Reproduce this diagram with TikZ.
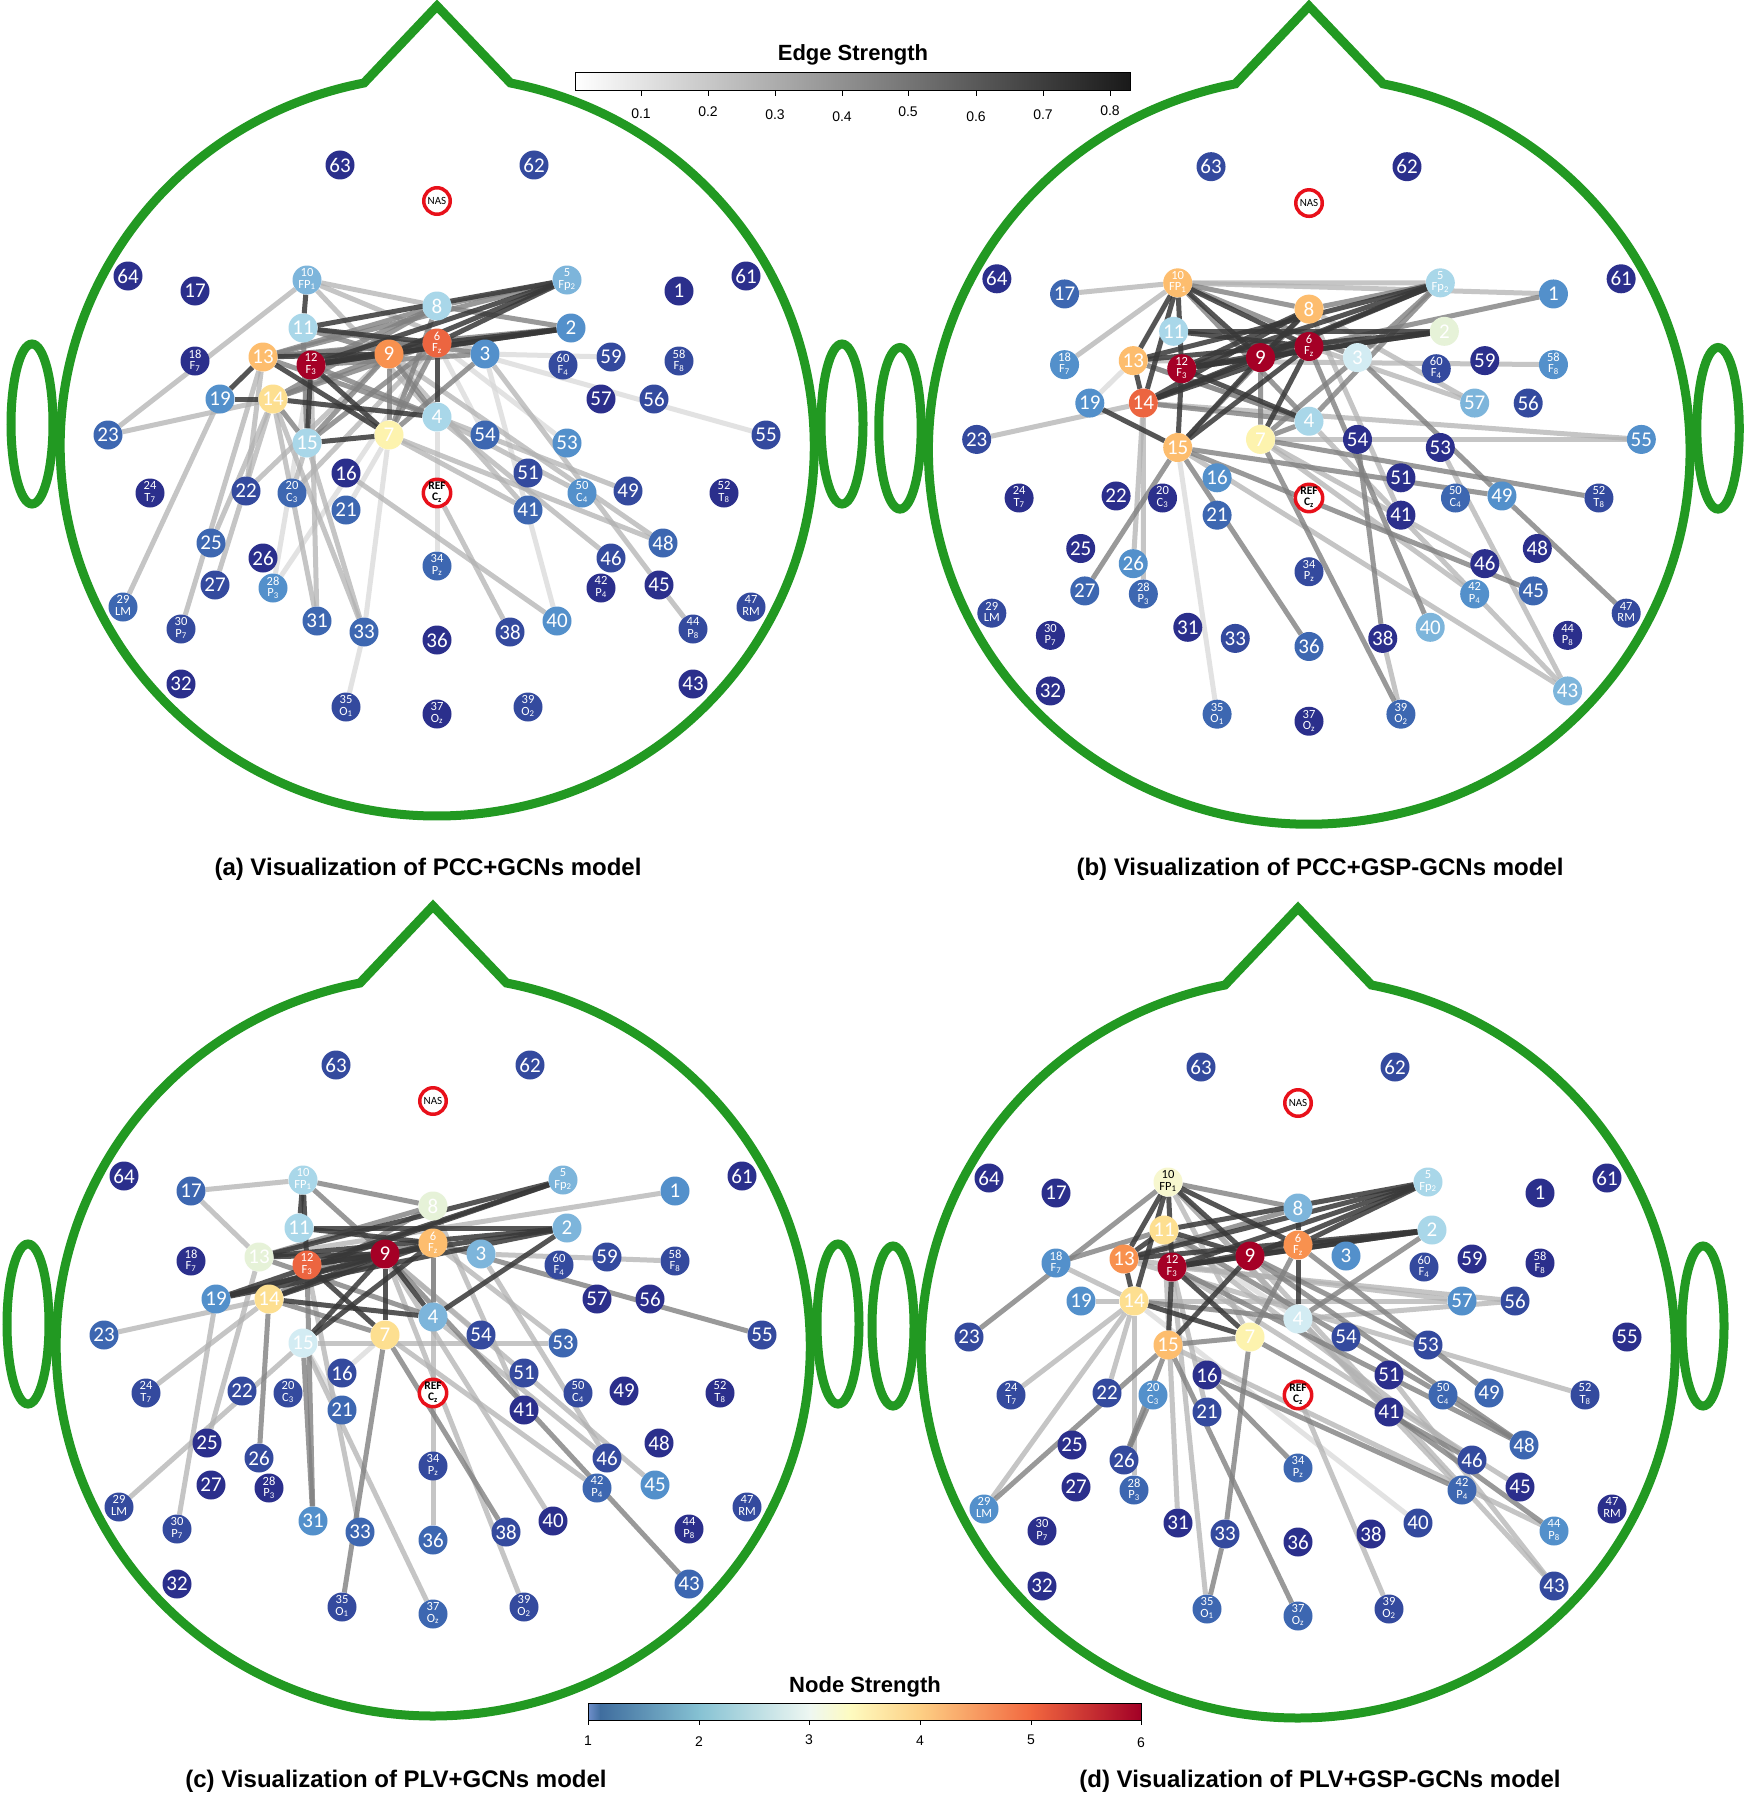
\documentclass[tikz,border=0pt]{standalone}
\usepackage{fontspec}
\setmainfont{Liberation Sans}
\newfontfamily\cfont{Carlito}
\pgfdeclarelayer{bg}
\pgfdeclarelayer{edges}
\pgfsetlayers{bg,edges,main}
\definecolor{hgreen}{RGB}{34,153,34}
\definecolor{refred}{HTML}{E8101A}
\definecolor{kB1}{HTML}{2B2F8C}
\definecolor{kB2}{HTML}{344A9E}
\definecolor{kB3}{HTML}{3D67B1}
\definecolor{kB4}{HTML}{5390CB}
\definecolor{kB5}{HTML}{7DB5DB}
\definecolor{kB6}{HTML}{A9D7E9}
\definecolor{kB7}{HTML}{D3ECF3}
\definecolor{kG}{HTML}{E6F2D8}
\definecolor{kY0}{HTML}{F7F7CF}
\definecolor{kY1}{HTML}{FDF3AE}
\definecolor{kY2}{HTML}{FDDF90}
\definecolor{kO1}{HTML}{FDBD6E}
\definecolor{kO2}{HTML}{F8914F}
\definecolor{kO3}{HTML}{EC6540}
\definecolor{kR}{HTML}{A50026}
\definecolor{s1}{HTML}{6F8FCB}
\definecolor{s2}{HTML}{3F6D9E}
\definecolor{s3}{HTML}{86C2D3}
\definecolor{s4}{HTML}{EEF7F2}
\definecolor{s5}{HTML}{FEFBC0}
\definecolor{s6}{HTML}{FDCF84}
\definecolor{s7}{HTML}{F2673F}
\definecolor{s8}{HTML}{A20026}
\newcommand\nfont{\cfont\fontsize{21}{21}\selectfont}
\newcommand\sfont{\cfont\fontsize{12.5}{10.5}\selectfont}
\newcommand\rfont{\cfont\bfseries\fontsize{11.5}{10.5}\selectfont}
\newcommand\twol[2]{{\sfont\begin{tabular}{@{}c@{}}#1\\#2\end{tabular}}}
\newcommand\deflab[2]{\expandafter\def\csname elab#1\endcsname{\twol{#1}{#2}}}
\deflab{10}{FP\textsubscript{1}}
\deflab{5}{Fp\textsubscript{2}}
\deflab{18}{F\textsubscript{7}}
\deflab{12}{F\textsubscript{3}}
\deflab{6}{F\textsubscript{z}}
\deflab{60}{F\textsubscript{4}}
\deflab{58}{F\textsubscript{8}}
\deflab{24}{T\textsubscript{7}}
\deflab{20}{C\textsubscript{3}}
\deflab{50}{C\textsubscript{4}}
\deflab{52}{T\textsubscript{8}}
\deflab{34}{P\textsubscript{z}}
\deflab{28}{P\textsubscript{3}}
\deflab{42}{P\textsubscript{4}}
\deflab{29}{LM}
\deflab{47}{RM}
\deflab{30}{P\textsubscript{7}}
\deflab{44}{P\textsubscript{8}}
\deflab{35}{O\textsubscript{1}}
\deflab{37}{O\textsubscript{z}}
\deflab{39}{O\textsubscript{2}}
\newcommand\elab[1]{\ifcsname elab#1\endcsname\csname elab#1\endcsname\else{\nfont#1}\fi}
\def\blackY{Y0}
\def\eegpos{64/-309/-217,17/-242/-202,10/-130/-213,5/130/-213,1/242/-202,61/309/-217,8/0/-187,11/-134/-165,2/134/-165,18/-242/-132,13/-174/-136,12/-126/-128,9/-48/-139,6/0/-150,3/48/-139,60/126/-128,59/174/-136,58/242/-132,19/-217/-94,14/-164/-94,57/164/-94,56/217/-94,23/-329/-58,4/0/-76,15/-130/-50,7/-48/-58,54/48/-58,53/130/-50,55/329/-58,16/-91/-20,51/91/-20,24/-287/0,22/-191/-2,20/-145/0,50/145/0,49/191/-2,52/287/0,21/-91/17,41/91/17,25/-226/50,48/226/50,26/-174/65,46/174/65,27/-222/92,28/-164/95,34/0/73,42/164/95,45/222/92,29/-314/114,47/314/114,30/-256/136,31/-120/128,33/-73/139,36/0/147,38/73/139,40/120/128,44/256/136,32/-256/191,43/256/191,35/-91/214,37/0/221,39/91/214,63/-97/-328,62/97/-328,NAS/0/-292,REF/0/0}
\tikzset{
  headline/.style={draw=hgreen,line width=9pt},
  enode/.style={circle,minimum size=29pt,inner sep=0pt},
  refnode/.style={circle,draw=refred,line width=3.5pt,fill=white,minimum size=26.5pt,inner sep=0pt,text=black},
  edk/.style={line width=5pt,draw=black!78,draw opacity=.85},
  edm/.style={line width=5pt,draw=black!50,draw opacity=.8},
  edl/.style={line width=5pt,draw=black!30,draw opacity=.75},
  edv/.style={line width=5pt,draw=black!15,draw opacity=.75},
  capt/.style={font=\bfseries\fontsize{24}{24}\selectfont},
  cbtitle/.style={font=\bfseries\fontsize{22}{22}\selectfont},
  cblab/.style={font=\fontsize{14}{14}\selectfont}
}
\newcommand\eegpanel[9]{%
\begin{scope}[shift={(#2,#3)},scale=#4]
\draw[headline] (-73,-410) arc[start angle=258.8,end angle=-78.8,x radius=377,y radius=370] -- (0,-487) -- cycle;
\draw[headline] (-405,-69) ellipse[x radius=21,y radius=80];
\draw[headline] (405,-69) ellipse[x radius=21,y radius=80];
\foreach \n/\x/\y in \eegpos {\coordinate (#1p\n) at (\x,\y);}
\foreach \n/\col in {#5} {%
  \edef\tmpc{\col}%
  \ifx\tmpc\blackY\def\tcol{black}\else\def\tcol{white}\fi
  \node[enode,fill=k\col,text=\tcol] (#1\n) at (#1p\n) {\elab{\n}};}
\node[refnode] (#1REF) at (#1pREF) {{\rfont\begin{tabular}{@{}c@{}}REF\\C\textsubscript{z}\end{tabular}}};
\node[refnode] (#1NAS) at (#1pNAS) {{\cfont\fontsize{11}{11}\selectfont NAS}};
\begin{pgfonlayer}{edges}
\foreach \ea/\eb in {#9} {\draw[edv] (#1\ea) -- (#1\eb);}
\foreach \ea/\eb in {#8} {\draw[edl] (#1\ea) -- (#1\eb);}
\foreach \ea/\eb in {#7} {\draw[edm] (#1\ea) -- (#1\eb);}
\foreach \ea/\eb in {#6} {\draw[edk] (#1\ea) -- (#1\eb);}
\end{pgfonlayer}
\end{scope}}
\begin{document}
\begin{tikzpicture}[x=1pt,y=-1pt]
\useasboundingbox (0,0) rectangle (1750,1798);
\begin{pgfonlayer}{bg}
\fill[white] (0,0) rectangle (1750,1798);
\end{pgfonlayer}
% panel (a)
\eegpanel{a}{437}{493}{1}%
{64/B1,17/B1,10/B5,5/B5,1/B1,61/B1,8/B6,11/B6,2/B4,18/B1,13/O1,12/R,9/O2,6/O3,3/B4,60/B2,59/B2,58/B2,19/B4,14/Y2,57/B1,56/B2,23/B3,4/B6,15/B6,7/Y1,54/B3,53/B4,55/B2,16/B1,51/B2,24/B1,22/B2,20/B3,50/B4,49/B2,52/B1,21/B3,41/B3,25/B3,48/B3,26/B1,46/B2,27/B2,28/B4,34/B3,42/B1,45/B1,29/B3,47/B2,30/B2,31/B3,33/B3,36/B1,38/B2,40/B4,44/B2,32/B1,43/B1,35/B2,37/B1,39/B2,63/B1,62/B2}%
{5/11,5/12,5/9,5/6,2/12,2/9,2/6,10/11,11/6,12/9,12/6,13/9,13/19,19/14,14/4,6/4,15/7,12/15,12/7,13/7}%
{8/5,8/2,8/12,8/13,14/9,14/8,7/6,7/8,7/3,15/9,4/9,14/15,11/15,5/13,2/13,13/4,11/9,11/3,12/3,13/6,14/6,15/6,9/7,12/4}%
{10/23,23/14,10/8,10/3,10/4,19/29,14/25,14/27,13/30,14/31,14/33,15/33,16/40,REF/38,7/48,7/41,4/46,4/49,3/45,45/44,9/41,9/48,12/31,13/22,15/20,9/22,4/50,20/6}%
{7/33,33/35,7/21,4/34,3/40,6/55,3/59,6/53,12/28,6/54,28/6}
% panel (b)
\eegpanel{b}{1309}{498}{1.01}%
{64/B1,17/B3,10/O1,5/B6,1/B4,61/B1,8/O1,11/B6,2/G,18/B4,13/O1,12/R,9/R,6/R,3/B7,60/B2,59/B1,58/B4,19/B4,14/O3,57/B5,56/B2,23/B2,4/B6,15/O1,7/Y1,54/B1,53/B1,55/B4,16/B4,51/B1,24/B1,22/B1,20/B1,50/B3,49/B4,52/B2,21/B3,41/B1,25/B1,48/B1,26/B4,46/B1,27/B3,28/B3,34/B2,42/B4,45/B3,29/B2,47/B2,30/B1,31/B1,33/B2,36/B3,38/B1,40/B5,44/B1,32/B1,43/B5,35/B3,37/B1,39/B3,63/B2,62/B1}%
{10/13,10/14,10/12,10/9,10/6,12/15,2/11,2/12,2/13,2/9,5/9,5/12,5/13,5/14,8/9,8/12,8/14,6/15,6/7,6/14,6/12,9/15,9/14,19/15,13/14,12/4,11/6,9/12}%
{10/8,10/3,10/4,5/3,5/4,5/8,1/6,3/7,4/14,4/13,7/52,15/49,3/49,49/47,15/27,15/36,7/39,15/45,6/40,54/38,8/15,9/7,4/7}%
{17/10,10/5,10/1,18/10,23/14,13/58,14/55,7/55,8/57,6/57,8/41,14/26,14/28,15/43,4/43,53/43,7/46,7/42,38/39,13/4}%
{15/35,19/13}
% panel (c)
\eegpanel{c}{433}{1393}{1}%
{64/B1,17/B3,10/B6,5/B5,1/B4,61/B1,8/G,11/B6,2/B5,18/B1,13/G,12/O3,9/R,6/O1,3/B5,60/B2,59/B2,58/B2,19/B4,14/Y2,57/B1,56/B1,23/B3,4/B5,15/B7,7/Y2,54/B2,53/B3,55/B2,16/B2,51/B2,24/B2,22/B2,20/B2,50/B2,49/B1,52/B1,21/B3,41/B1,25/B1,48/B1,26/B2,46/B2,27/B1,28/B1,34/B2,42/B3,45/B4,29/B2,47/B2,30/B2,31/B4,33/B3,36/B3,38/B2,40/B1,44/B1,32/B1,43/B3,35/B2,37/B3,39/B2,63/B2,62/B2}%
{5/13,5/12,5/19,2/13,2/12,2/19,11/2,9/19,9/13,9/14,9/12,6/19,6/14,2/4,10/11,10/12,14/4,15/9,15/6,9/4,9/7,12/7,11/6}%
{10/8,10/9,6/55,14/7,13/4,6/4,26/14,35/7,38/7,43/9,12/31,15/31,8/13,8/14,6/12}%
{17/10,17/13,3/58,6/36,8/41,13/25,24/14,29/15,30/19,33/12,37/15,39/9,40/9,42/7,45/9,46/4,46/3,53/15,54/9,23/14,6/53,1/13}%
{15/21,16/7}
% panel (d)
\eegpanel{d}{1298}{1395}{1}%
{64/B1,17/B1,10/Y0,5/B6,1/B1,61/B1,8/B5,11/Y2,2/B6,18/B4,13/O2,12/R,9/R,6/O2,3/B4,60/B2,59/B1,58/B1,19/B4,14/Y2,57/B4,56/B2,23/B2,4/B7,15/O1,7/Y1,54/B2,53/B2,55/B1,16/B1,51/B1,24/B2,22/B2,20/B4,50/B3,49/B3,52/B2,21/B2,41/B1,25/B1,48/B3,26/B2,46/B2,27/B1,28/B3,34/B3,42/B3,45/B1,29/B4,47/B1,30/B1,31/B1,33/B2,36/B1,38/B1,40/B2,44/B4,32/B1,43/B2,35/B3,37/B3,39/B2,63/B2,62/B2}%
{10/13,10/14,10/9,10/6,10/12,5/11,5/13,5/12,5/9,5/6,2/13,2/12,2/9,2/6,8/6,6/4,13/14,14/7,12/7,15/12,15/9,11/13,9/12,12/6,11/9}%
{10/23,2/4,18/11,9/53,6/49,9/48,12/48,11/50,7/46,29/15,26/20,26/15,33/7,35/33,37/15,34/16,16/42,41/44,48/50,14/4,15/7,7/6,8/13,10/8}%
{10/4,10/7,18/14,19/14,14/57,13/57,12/56,4/56,13/52,22/14,24/14,29/14,28/14,31/11,35/12,21/12,39/REF,43/51,10/41,10/42,11/46,12/45,9/43,15/44}%
{11/4,14/40}
% edge strength colorbar
\node[cbtitle] (etitle) at (853,55) {Edge Strength};
\shade[left color=white,right color=black!90] (575,73) rectangle (1130,91);
\draw[line width=1pt] (575,73) rectangle (1130,91);
\foreach \v/\x/\y in {0.1/641/114,0.2/708/112,0.3/775/115,0.4/842/117,0.5/908/112,0.6/976/117,0.7/1043/115,0.8/1110/111}{
  \draw[line width=1pt] (\x,91) -- (\x,96);
  \node[cblab] (et\x) at (\x,\y) {\v};}
% node strength colorbar
\node[cbtitle] (ntitle) at (865,1687) {Node Strength};
\shade[left color=s1,right color=s2] (588,1703) rectangle (601,1720);
\shade[left color=s2,right color=s3] (600,1703) rectangle (700,1720);
\shade[left color=s3,right color=s4] (699,1703) rectangle (810,1720);
\shade[left color=s4,right color=s5] (809,1703) rectangle (851,1720);
\shade[left color=s5,right color=s6] (850,1703) rectangle (921,1720);
\shade[left color=s6,right color=s7] (920,1703) rectangle (1032,1720);
\shade[left color=s7,right color=s8] (1031,1703) rectangle (1141,1720);
\draw[line width=1pt] (588,1703) rectangle (1141,1720);
\foreach \v/\x/\y in {1/588/1741,2/699/1742,3/809/1740,4/920/1741,5/1031/1740,6/1141/1743}{
  \draw[line width=1pt] (\x,1720) -- (\x,1725);
  \node[cblab] (nt\v) at (\x,\y) {\v};}
% captions
\node[capt] (capa) at (428,869) {(a) Visualization of PCC+GCNs model};
\node[capt] (capb) at (1320,869) {(b) Visualization of PCC+GSP-GCNs model};
\node[capt] (capc) at (396,1781) {(c) Visualization of PLV+GCNs model};
\node[capt] (capd) at (1320,1781) {(d) Visualization of PLV+GSP-GCNs model};
\end{tikzpicture}
\end{document}
